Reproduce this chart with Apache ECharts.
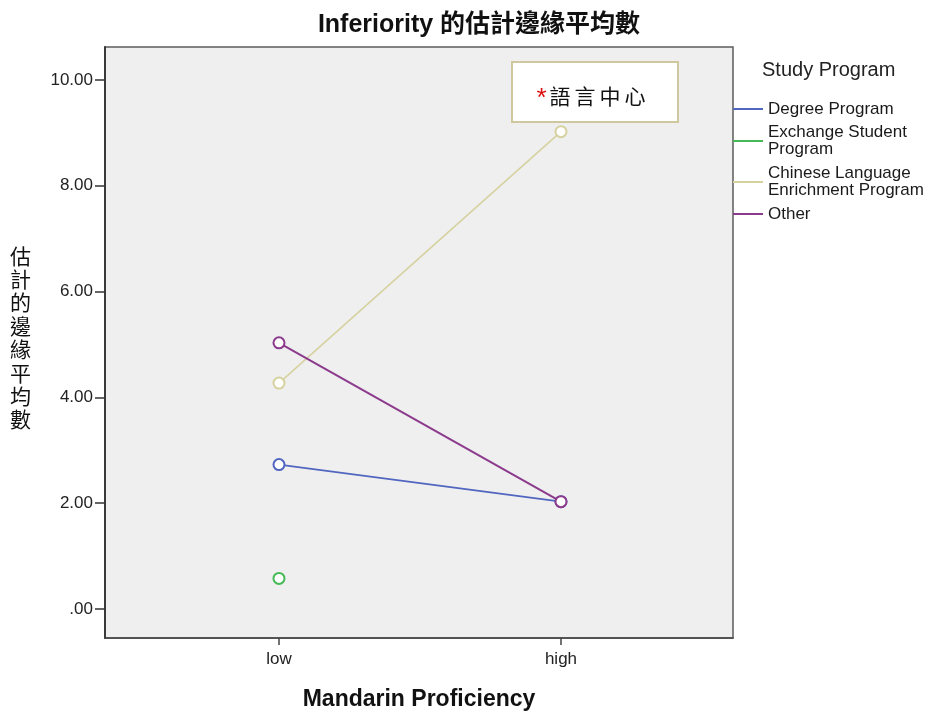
<!DOCTYPE html>
<html>
<head>
<meta charset="utf-8">
<script src="https://cdn.jsdelivr.net/npm/echarts@6/dist/echarts.min.js"></script>
<style>html,body{margin:0;padding:0;background:#fff}#c{width:925px;height:716px}</style>
</head>
<body>
<div id="c"></div>
<script>
var categories = ['low', 'high'];
var seriesNames = ['Degree Program', 'Exchange Student Program', 'Chinese Language Enrichment Program', 'Other'];
var legendLabels = ['Degree Program', 'Exchange Student\nProgram', 'Chinese Language\nEnrichment Program', 'Other'];
var degreeValues = [2.73, 2.03];
var exchangeValues = [0.58, null];
var clepValues = [4.27, 9.02];
var otherValues = [5.03, 2.03];
var yTicks = [0, 2, 4, 6, 8, 10];

var colors = ['#5166c0', '#44b955', '#d6d2a0', '#8c3a8c'];
var allValues = [degreeValues, exchangeValues, clepValues, otherValues];
var FONT = "'Liberation Sans', Arial, 'Noto Sans CJK TC', sans-serif";

var chart = echarts.init(document.getElementById('c'));

var series = seriesNames.map(function (name, i) {
  return {
    name: name,
    type: 'line',
    data: allValues[i].map(function (v, j) { return [j, v]; }),
    symbol: 'emptyCircle',
    symbolSize: 11,
    connectNulls: false,
    lineStyle: { color: colors[i], width: i === 3 ? 2 : 1.6 },
    itemStyle: { color: colors[i], borderColor: colors[i], borderWidth: 2 },
    emphasis: { disabled: true },
    z: i === 3 ? 4 : 3
  };
});

var legendCenters = [109, 141, 182, 214];
var legendHeights = [17, 34, 34, 17];
var legends = seriesNames.map(function (name, i) {
  return {
    data: [{ name: name, icon: 'rect' }],
    orient: 'vertical',
    left: 733,
    top: legendCenters[i] - legendHeights[i] / 2,
    padding: 0,
    itemWidth: 30,
    itemHeight: 2,
    itemStyle: { borderWidth: 0 },
    selectedMode: false,
    formatter: function () { return legendLabels[i]; },
    textStyle: { fontFamily: FONT, fontSize: 17, color: '#1a1a1a', lineHeight: 17 }
  };
});

var option = {
  animation: false,
  textStyle: { fontFamily: FONT },
  title: [
    {
      text: 'Inferiority 的估計邊緣平均數',
      left: 479, top: 13, textAlign: 'center', padding: 0,
      textStyle: { fontFamily: FONT, fontSize: 25, fontWeight: 'bold', color: '#111' }
    },
    {
      text: 'Study Program',
      left: 762, top: 60, padding: 0,
      textStyle: { fontFamily: FONT, fontSize: 20, fontWeight: 'normal', color: '#222' }
    }
  ],
  legend: legends,
  grid: {
    left: 105, right: 192, top: 47, bottom: 76,
    show: true, backgroundColor: '#efefef', borderColor: '#5c5c5c', borderWidth: 1.5
  },
  xAxis: {
    type: 'value',
    min: -0.617, max: 1.61,
    name: 'Mandarin Proficiency',
    nameLocation: 'middle',
    nameGap: 50,
    nameTextStyle: { fontFamily: FONT, fontSize: 23, fontWeight: 'bold', color: '#111' },
    axisLine: { show: true, onZero: false, lineStyle: { color: '#444', width: 1.5 } },
    axisTick: { show: true, length: 7, customValues: [0, 1], lineStyle: { color: '#444', width: 1.5 } },
    axisLabel: {
      customValues: [0, 1], margin: 13,
      fontFamily: FONT, fontSize: 17, color: '#222',
      formatter: function (v) { return categories[Math.round(v)]; }
    },
    splitLine: { show: false }
  },
  yAxis: {
    type: 'value',
    min: -0.546, max: 10.62,
    axisLine: { show: true, onZero: false, lineStyle: { color: '#3a3a3a', width: 2 } },
    axisTick: { show: true, length: 10, customValues: yTicks, lineStyle: { color: '#333', width: 1.5 } },
    axisLabel: {
      customValues: yTicks, margin: 12,
      fontFamily: FONT, fontSize: 17, color: '#222',
      formatter: function (v) { return v === 0 ? '.00' : v.toFixed(2); }
    },
    splitLine: { show: false }
  },
  graphic: [
    {
      type: 'text',
      left: 10, top: 244,
      style: {
        text: '估\n計\n的\n邊\n緣\n平\n均\n數',
        font: "21px 'Noto Sans CJK TC', sans-serif",
        lineHeight: 23.4,
        fill: '#111',
        align: 'left'
      }
    },
    {
      type: 'rect',
      shape: { x: 512, y: 62, width: 166, height: 60 },
      style: { fill: '#ffffff', stroke: '#cfc89e', lineWidth: 2 },
      z: 10
    },
    {
      type: 'text',
      x: 592, y: 96,
      z: 11,
      style: {
        text: '{r|*}{c|語}{c|言}{c|中}{c|心}',
        align: 'center', verticalAlign: 'middle',
        rich: {
          r: { fontSize: 26, fill: '#e01010', fontFamily: FONT, padding: [6, 1, 0, 0] },
          c: { fontSize: 21, fill: '#111', fontFamily: "'Noto Sans CJK TC', sans-serif", padding: [0, 2, 0, 2] }
        }
      }
    }
  ],
  series: series
};
chart.setOption(option);
</script>
</body>
</html>
